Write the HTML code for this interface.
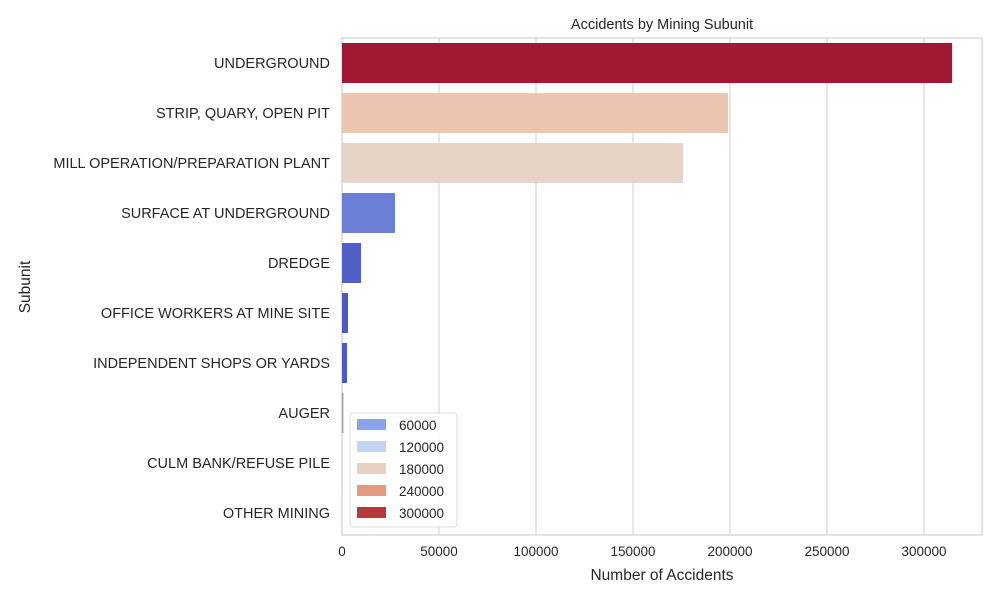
<!DOCTYPE html>
<html><head><meta charset="utf-8"><style>
body{margin:0;background:#fff;font-family:"Liberation Sans",sans-serif;}
</style></head><body>
<svg width="1000" height="600" xmlns="http://www.w3.org/2000/svg" font-family="Liberation Sans, sans-serif">
<g id="grid"></g>
<rect x="342" y="38" width="640" height="497" fill="none" stroke="#d0d0d0" stroke-width="1.2"/>
<g id="bars"></g><g id="ylabels"></g><g id="xlabels"></g>
<text x="662" y="29" text-anchor="middle" font-size="14.5" fill="#262626">Accidents by Mining Subunit</text>
<text x="662" y="580" text-anchor="middle" font-size="15.5" fill="#262626">Number of Accidents</text>
<text x="30" y="287" text-anchor="middle" font-size="15.5" fill="#262626" transform="rotate(-90 30 287)">Subunit</text>
<g id="legend"></g>
</svg>
<script>
const categories=["UNDERGROUND","STRIP, QUARY, OPEN PIT","MILL OPERATION/PREPARATION PLANT","SURFACE AT UNDERGROUND","DREDGE","OFFICE WORKERS AT MINE SITE","INDEPENDENT SHOPS OR YARDS","AUGER","CULM BANK/REFUSE PILE","OTHER MINING"];
const values=[314500,199000,175800,27300,9800,3100,2600,700,300,100];
const colors=["#a11834","#ecc5b1","#e6d4c9","#6a7ed6","#5060c8","#4a5bc5","#4a5ac4","#999999","#cccccc","#dddddd"];
const xTicks=[0,50000,100000,150000,200000,250000,300000];
const legendLabels=["60000","120000","180000","240000","300000"];
const legendColors=["#8aa4ea","#c2d3f0","#e9d0c4","#e49a80","#b5383f"];
const NS="http://www.w3.org/2000/svg";
const xScale=v=>342+v*97/50000;
const band=50, plotTop=38;
const yScale=i=>plotTop+i*band;
function mk(t,a,p){const e=document.createElementNS(NS,t);for(const k in a)e.setAttribute(k,a[k]);p.appendChild(e);return e;}
const gridG=document.getElementById('grid');
xTicks.forEach(t=>{
 const l=mk('line',{x1:xScale(t),x2:xScale(t),y1:38,y2:535,stroke:'#d6d6d6','stroke-width':1.2},gridG);
 
 
 const tx=mk('text',{x:xScale(t),y:556,'text-anchor':'middle','font-size':13.5,fill:'#262626'},document.getElementById('xlabels'));
 tx.textContent=t;
 
 
});
const bg=document.getElementById('bars');
categories.forEach((c,i)=>{
 const r=mk('rect',{x:xScale(0),y:yScale(i)+5,width:Math.max(xScale(values[i])-xScale(0),0.5),height:40,fill:colors[i]},bg);
 
 
 const t=mk('text',{x:330,y:yScale(i)+30,'text-anchor':'end','font-size':14.5,fill:'#262626'},document.getElementById('ylabels'));
 t.textContent=c;
 
 
});
const lg=document.getElementById('legend');
mk('rect',{x:350,y:413,width:107,height:114,rx:3,fill:'#fff','fill-opacity':0.85,stroke:'#dcdcdc'},lg);
legendLabels.forEach((l,i)=>{
 const s=mk('rect',{x:357,y:419+i*22,width:29,height:11,fill:legendColors[i]},lg);
 
 
 const t=mk('text',{x:399,y:430+i*22,'font-size':13.5,fill:'#262626'},lg);
 t.textContent=l;
 
 
});
</script>
</body></html>
